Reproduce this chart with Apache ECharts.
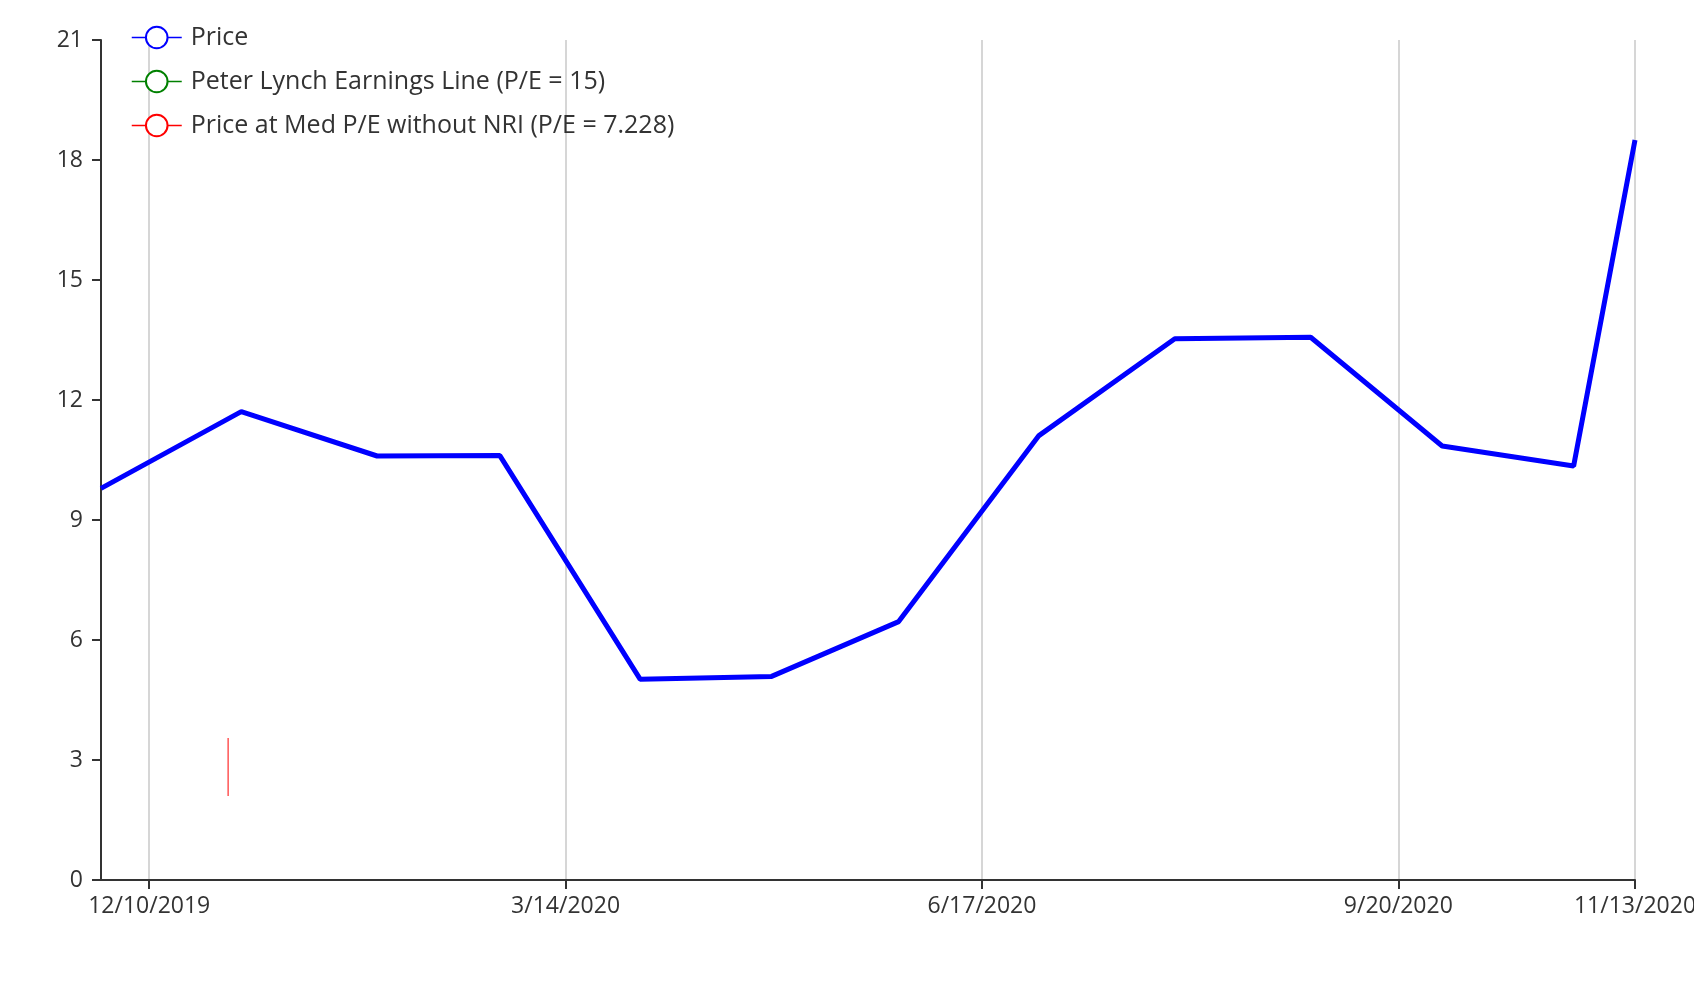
<!DOCTYPE html>
<html>
<head>
<meta charset="utf-8">
<script src="https://cdn.jsdelivr.net/npm/echarts@6/dist/echarts.min.js"></script>
<style>
html,body{margin:0;padding:0;background:#fff;}
#chart{width:1694px;height:1000px;}
</style>
</head>
<body>
<div id="chart"></div>
<script>
// ---- data ----
const priceDates = ['2019-11-29','2019-12-31','2020-01-31','2020-02-28','2020-03-31','2020-04-30','2020-05-29','2020-06-30','2020-07-31','2020-08-31','2020-09-30','2020-10-30','2020-11-13'];
const priceValues = [9.79, 11.71, 10.60, 10.61, 5.02, 5.09, 6.46, 11.11, 13.53, 13.57, 10.85, 10.35, 18.50];
const lynchDates = [];
const lynchValues = [];
const medPeDates = ['2019-12-28','2019-12-28'];
const medPeValues = [3.55, 2.10];
const xTickDates = ['2019-12-10','2020-03-14','2020-06-17','2020-09-20','2020-11-13'];
const xMinDate = '2019-11-29';
const xMaxDate = '2020-11-13';
const yTicks = [0, 3, 6, 9, 12, 15, 18, 21];
const seriesNames = ['Price','Peter Lynch Earnings Line (P/E = 15)','Price at Med P/E without NRI (P/E = 7.228)'];

function ts(s){ const p = s.split('-').map(Number); return Date.UTC(p[0], p[1]-1, p[2]); }
function fmt(v){ const d = new Date(v); return (d.getUTCMonth()+1) + '/' + d.getUTCDate() + '/' + d.getUTCFullYear(); }
function pairs(ds, vs){ return ds.map((d,i)=>[ts(d), vs[i]]); }

const FONT = 'Open Sans';
const TXT = '#333';
const chart = echarts.init(document.getElementById('chart'), null, {renderer:'canvas'});
chart.setOption({
  animation: false,
  backgroundColor: '#fff',
  textStyle: {fontFamily: FONT},
  grid: {left: 101, right: 59, top: 40, bottom: 120, containLabel: false, outerBoundsMode: 'none'},
  legend: {
    orient: 'vertical', left: 131, top: 24, padding: 0,
    itemWidth: 50, itemHeight: 27, itemGap: 17,
    data: seriesNames,
    textStyle: {fontFamily: FONT, fontSize: 25, lineHeight: 27, color: TXT, padding: [0,0,0,4]},
    lineStyle: {width: 1.5}
  },
  xAxis: {
    type: 'value',
    min: ts(xMinDate), max: ts(xMaxDate),
    axisLine: {lineStyle: {color: '#333', width: 2}},
    axisTick: {show: true, length: 9, lineStyle: {color: '#333', width: 2}, customValues: xTickDates.map(ts)},
    axisLabel: {customValues: xTickDates.map(ts), formatter: fmt, fontFamily: FONT, fontSize: 23, color: TXT, margin: 15},
    splitLine: {show: true, lineStyle: {color: '#c8c8c8', width: 1.5}}
  },
  yAxis: {
    type: 'value', min: 0, max: 21, interval: 3,
    axisLine: {show: true, lineStyle: {color: '#333', width: 2}},
    axisTick: {show: true, length: 9, lineStyle: {color: '#333', width: 2}},
    axisLabel: {fontFamily: FONT, fontSize: 23, color: TXT, margin: 18},
    splitLine: {show: false}
  },
  series: [
    {name: seriesNames[0], type: 'line', data: pairs(priceDates, priceValues), symbol: 'emptyCircle', showSymbol: false,
     lineStyle: {color: '#0000ff', width: 5}, itemStyle: {color: '#0000ff'}},
    {name: seriesNames[1], type: 'line', data: pairs(lynchDates, lynchValues), symbol: 'emptyCircle', showSymbol: false,
     lineStyle: {color: 'green', width: 1.5}, itemStyle: {color: 'green'}},
    {name: seriesNames[2], type: 'line', data: pairs(medPeDates, medPeValues), symbol: 'emptyCircle', showSymbol: false,
     lineStyle: {color: 'red', width: 1}, itemStyle: {color: 'red'}}
  ]
});
</script>
</body>
</html>
